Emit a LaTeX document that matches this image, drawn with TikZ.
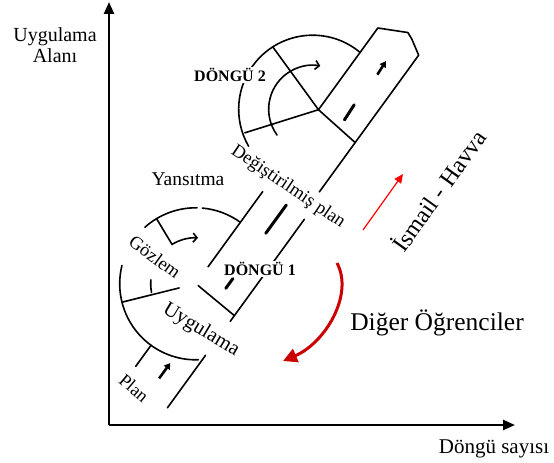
\documentclass[tikz,border=0pt]{standalone}
\usepackage{fontspec}
\setmainfont{Liberation Serif}
\usetikzlibrary{arrows.meta}
\definecolor{darkred}{RGB}{205,0,0}
\begin{document}
\begin{tikzpicture}[x=1pt,y=1pt,
  ln/.style={line width=1.6pt, line cap=round},
  thk/.style={line width=3pt, line cap=round},
  smallarr/.style={line width=2.6pt, -{Triangle[length=6pt,width=7pt]}},
  barb/.style={ln, -{Straight Barb[length=4pt,width=9pt]}},
  lbl/.style={inner sep=1pt, font=\fontsize{19.5}{21}\selectfont},
  bigl/.style={inner sep=1pt, font=\fontsize{24}{26}\selectfont},
  boldl/.style={inner sep=1.5pt, fill=white, font=\fontsize{16}{18}\selectfont\bfseries},
  axis/.style={line width=2.4pt, -{Triangle[length=12pt,width=10pt]}}
]
\useasboundingbox (0,0) rectangle (554,463);

% axes
\coordinate (O) at (109,38);
\coordinate (ytop) at (109,461);
\coordinate (xend) at (515,38);
\draw[axis] (O) -- (ytop);
\draw[axis] (O) -- (xend);
\node[lbl, align=center, font=\fontsize{20}{21}\selectfont] (ua) at (55,418) {Uygulama\\Alanı};
\node[lbl, font=\fontsize{21}{23}\selectfont] (ds) at (494,14) {Döngü sayısı};

% rotated structure
\begin{scope}[rotate=54]
  \coordinate (C1) at (260,-53);
  \coordinate (J2) at (473,-50);
  \coordinate (C2) at (470,-45);

  % Plan band
  \draw[ln] (158,-53) -- (184,-53);
  \draw[ln] (143,-103) -- (208,-103);
  \coordinate (pa1) at (162,-79);
  \coordinate (pa2) at (181,-79);
  \draw[smallarr] (pa1) -- (pa2);

  % Dongu 1 circle
  \draw[ln] (C1) ++(0:76) arc[start angle=0,end angle=31,radius=76];
  \draw[ln] (C1) ++(35:76) arc[start angle=35,end angle=78,radius=76];
  \draw[ln] (C1) ++(112:76) arc[start angle=112,end angle=218,radius=76];
  \draw[barb] (C1) ++(67:76) -- ++(247:30) arc[start angle=67,end angle=33,radius=46];
  \draw[ln] (C1) ++(140:76) -- ++(320:59);
  \draw[ln] (C1) ++(121:45) arc[start angle=121,end angle=137,radius=45];

  % middle band
  \draw[ln] (260,-56) -- (257,-103);
  \draw[ln] (281,-53) -- (374,-53);
  \draw[ln] (250,-103) -- (376,-103);
  \draw[thk] (274,-80) -- (286,-80);
  \draw[thk] (342,-80) -- (377,-80);

  % Dongu 2
  \draw[ln] (C2) ++(-4:74) arc[start angle=-4,end angle=156,radius=74];
  \draw[ln] (J2) -- (497,24);
  \draw[ln] (J2) -- (411,-4);
  \draw[ln] (J2) -- (468,-99);
  \draw[barb] (C2) ++(162:44) arc[start angle=162,end angle=26,radius=44];

  % box
  \draw[ln, line join=round] (J2) -- (574,-50) -- (588,-77) -- (585,-84) -- (576,-99) -- (407,-99);
  \draw[thk] (480,-77) -- (498,-76);
  \coordinate (ba1) at (536,-77);
  \coordinate (ba2) at (552,-76);
  \draw[smallarr] (ba1) -- (ba2);
\end{scope}

% labels
\node[lbl] (yans) at (188,284) {Yansıtma};
\node[lbl, rotate=-36, font=\fontsize{18.5}{20}\selectfont] (gozlem) at (155,206) {Gözlem};
\node[lbl, rotate=-31, font=\fontsize{20.5}{22}\selectfont] (uyg) at (201,133) {Uygulama};
\node[lbl, rotate=-40, font=\fontsize{18}{19}\selectfont] (plan) at (134,75) {Plan};
\node[lbl, rotate=-34, font=\fontsize{18.5}{20}\selectfont] (degis) at (288,276) {Değiştirilmiş plan};
\node[boldl] (d1) at (260,194) {DÖNGÜ 1};
\node[boldl] (d2) at (230,388) {DÖNGÜ 2};
\node[bigl] (ih) [rotate=54.5] at (438,273) {İsmail - Havva};
\node[bigl, font=\fontsize{25.5}{27}\selectfont] (do) at (437,140) {Diğer Öğrenciler};

% red arrows
\coordinate (r1) at (363,233);
\coordinate (r2) at (403,289);
\draw[red, line width=1.2pt, -{Triangle[length=9pt,width=8pt]}] (r1) -- (r2);
\coordinate (c1) at (337,200);
\coordinate (c2) at (283,102);
\draw[darkred, line width=3pt, -{Triangle[length=14pt,width=14pt]}] (c1) .. controls (354,168) and (325,120) .. (c2);
\end{tikzpicture}
\end{document}
